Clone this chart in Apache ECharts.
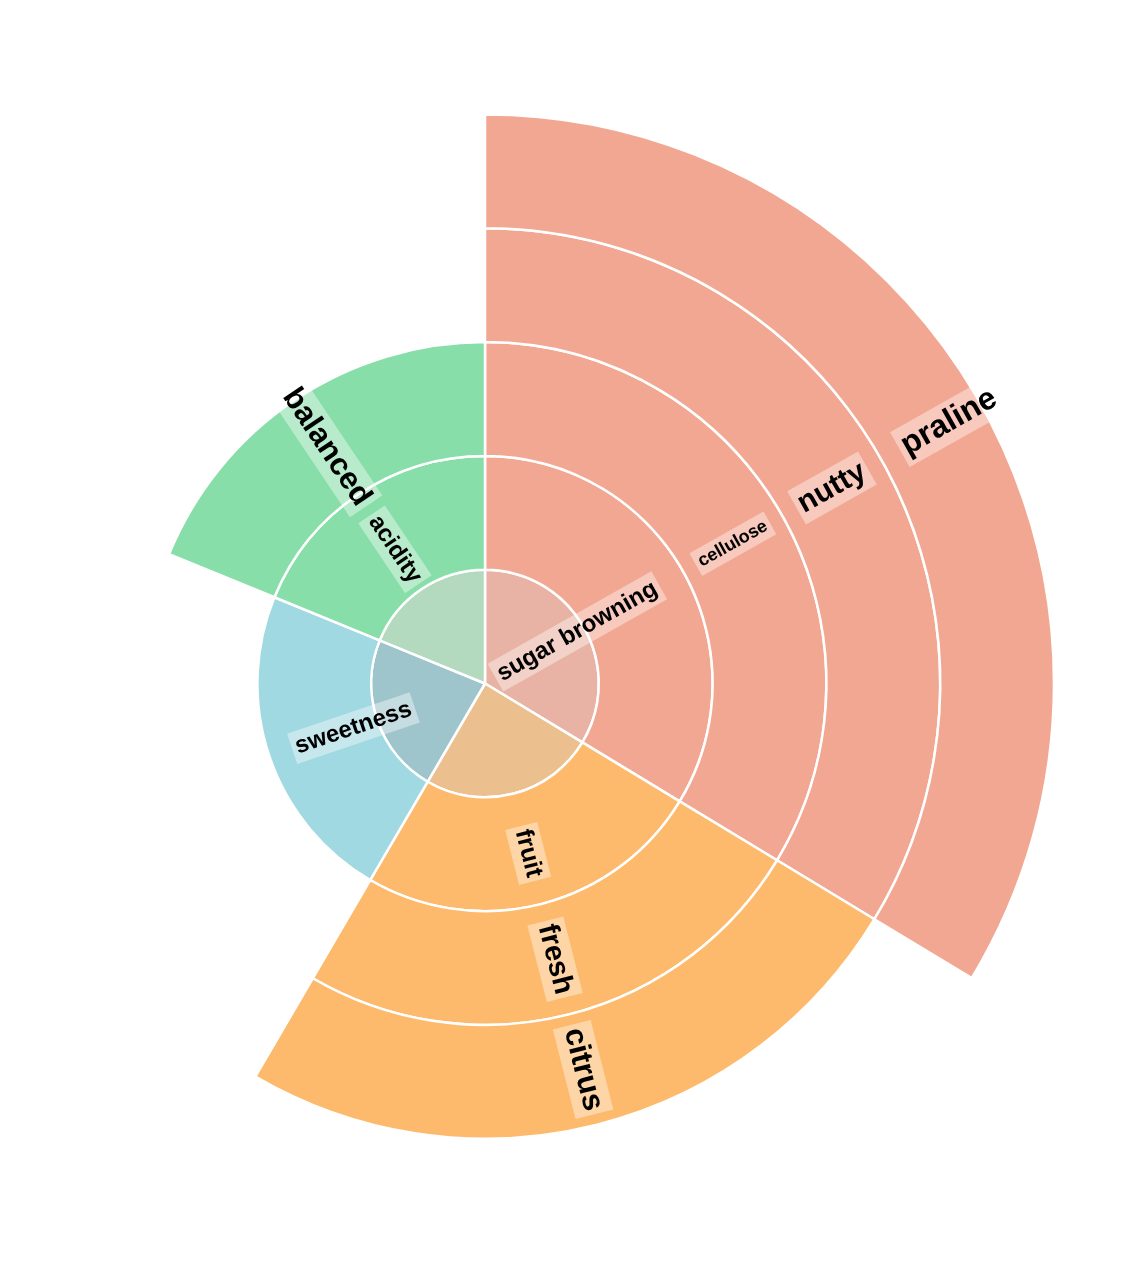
<!DOCTYPE html>
<html>
<head>
<meta charset="utf-8">
<title>flavour sunburst</title>
<script src="https://cdn.jsdelivr.net/npm/echarts@6/dist/echarts.min.js"></script>
<style>
    html, body { margin: 0; padding: 0; background: #fff; }
    #chart { width: 1136px; height: 1262px; }
</style>
</head>
<body>
<div id="chart"></div>
<script>
// one chain of names per branch, from the centre outwards ('' = no label)
const branchNames = [
    ['sugar browning', '', 'cellulose', 'nutty', 'praline'],
    ['', 'fruit', 'fresh', 'citrus'],
    ['', 'sweetness'],
    ['', 'acidity', 'balanced']
];
const branchValues = [34, 25, 23, 19];

// colours: outer rings and the centre disk
const ringColors = ['#f2a792', '#fdba6c', '#a0d9e1', '#87dea9'];
const coreColors = ['#e8b3a4', '#ebbf8e', '#9ec5cb', '#b3d9bf'];

// label font sizes
const labelSize = {
    'sugar browning': 24, 'fruit': 25, 'sweetness': 24, 'acidity': 24,
    'cellulose': 18, 'fresh': 29, 'balanced': 31,
    'nutty': 30, 'citrus': 31, 'praline': 32
};

function buildBranch(b) {
    const names = branchNames[b];
    let node = null;
    // build from the leaf back to the centre
    for (let d = names.length - 1; d >= 0; d--) {
        const name = names[d];
        const item = {
            name: name,
            value: branchValues[b],
            itemStyle: { color: d === 0 ? coreColors[b] : ringColors[b] },
            label: name ? { fontSize: labelSize[name] } : { show: false }
        };
        if (node) item.children = [node];
        node = item;
    }
    return node;
}

const data = branchNames.map((_, i) => buildBranch(i));

const chart = echarts.init(document.getElementById('chart'));
chart.setOption({
    animation: false,
    series: [{
        type: 'sunburst',
        center: [485, 683.5],
        radius: [0, 569],
        sort: null,
        nodeClick: false,
        data: data,
        itemStyle: { borderColor: '#fff', borderWidth: 2.5 },
        label: {
            rotate: 'radial',
            color: '#000',
            fontWeight: 'bold',
            fontFamily: 'Liberation Sans, Arial, Helvetica, sans-serif',
            backgroundColor: 'rgba(255,255,255,0.4)',
            padding: [4, 4],
            textBorderWidth: 0
        },
        emphasis: { focus: 'none' },
        levels: [
            {},
            { label: { align: 'left', distance: 12 } },
            { label: { align: 'right', distance: 24 } },
            {},
            {},
            { label: { align: 'left', distance: 21 } }
        ]
    }]
});

window.addEventListener('resize', function () {
    chart.resize();
});
</script>
</body>
</html>
